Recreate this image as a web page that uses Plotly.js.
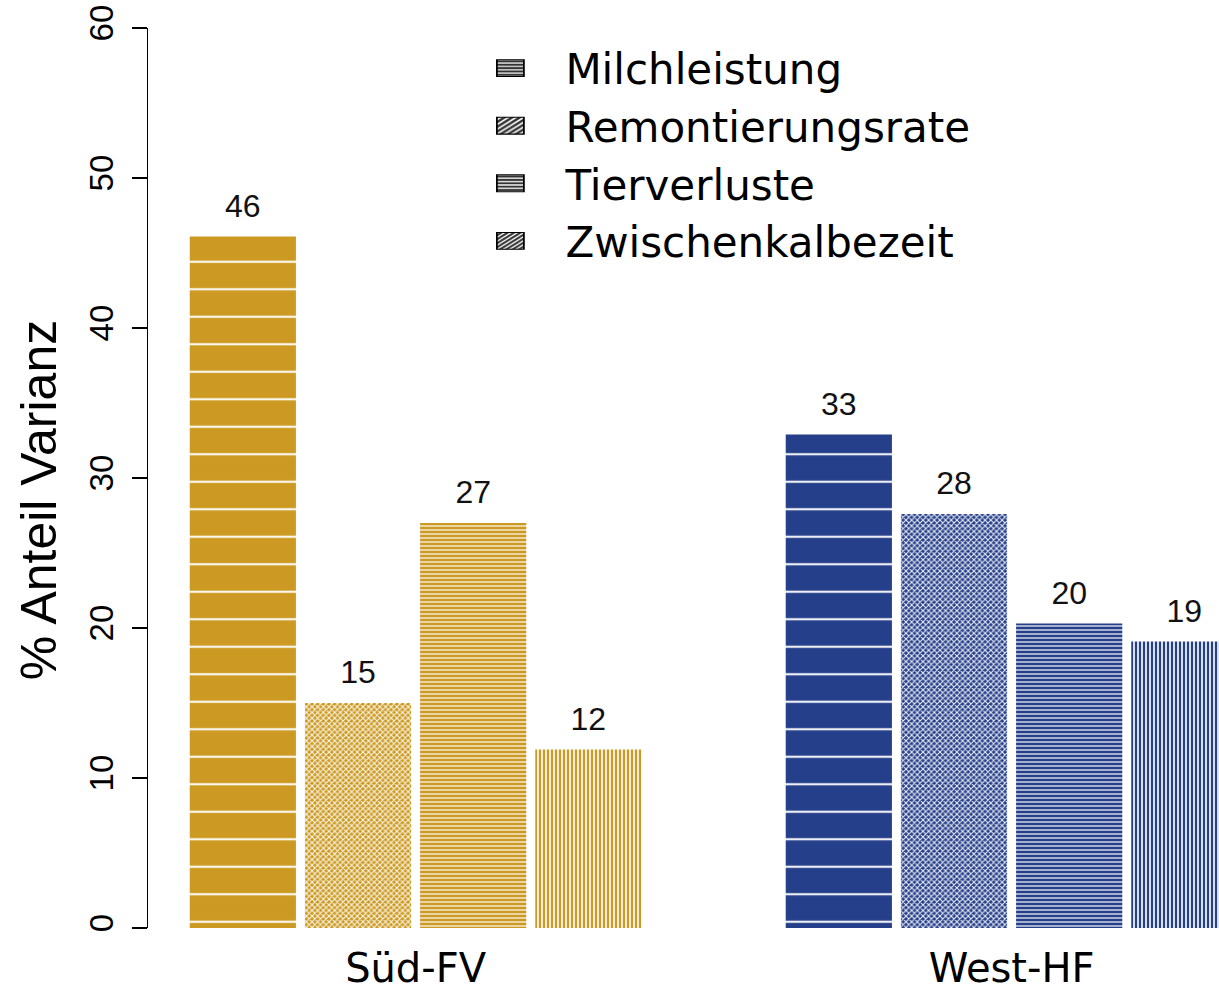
<!DOCTYPE html>
<html>
<head>
<meta charset="utf-8">
<script src="https://cdn.plot.ly/plotly-3.0.1.min.js"></script>
<style>html,body{margin:0;padding:0;background:#fff;}#chart{width:1219px;height:993px;}</style>
</head>
<body>
<div id="chart"></div>
<script>
// ---- data ----
const groups = ["Süd-FV", "West-HF"];
const seriesNames = ["Milchleistung", "Remontierungsrate", "Tierverluste", "Zwischenkalbezeit"];
const milchleistung = [46.1, 32.9];
const remontierungsrate = [15.0, 27.6];
const tierverluste = [27.0, 20.3];
const zwischenkalbezeit = [11.9, 19.1];
const yTicks = [0, 10, 20, 30, 40, 50, 60];

// ---- styles ----
const groupColors = ["#CC9A22", "#253F8A"];
const patterns = [
  {shape: "-", size: 27.5, solidity: 0.08},
  {shape: "x", size: 4, solidity: 0.45},
  {shape: "-", size: 4, solidity: 0.32},
  {shape: "|", size: 4, solidity: 0.45}
];
const legendPatterns = [
  {shape: "-", size: 3, solidity: 0.35},
  {shape: "/", size: 3, solidity: 0.4},
  {shape: "-", size: 3, solidity: 0.4},
  {shape: "/", size: 2.5, solidity: 0.4}
];
const values = [milchleistung, remontierungsrate, tierverluste, zwischenkalbezeit];

const traces = [];
values.forEach((vals, i) => {
  traces.push({
    type: "bar",
    name: seriesNames[i],
    x: groups,
    y: vals,
    showlegend: false,
    marker: {
      color: groupColors[0],
      line: {width: 0},
      pattern: Object.assign({
        fillmode: "replace",
        fgcolor: groups.map(() => "#ffffff"),
        bgcolor: groupColors,
        fgopacity: 0.92
      }, patterns[i])
    },
    texttemplate: "%{y:.0f}",
    textposition: "outside",
    cliponaxis: false,
    textfont: {family: "Liberation Sans, Arial, sans-serif", size: 32, color: "#111"},
    hoverinfo: "skip"
  });
});
// legend-only swatches (drawn off-screen on hidden axes)
seriesNames.forEach((n, i) => {
  traces.push({
    type: "bar",
    name: n,
    x: [0],
    y: [1],
    xaxis: "x2",
    yaxis: "y2",
    legendgroup: "g" + i,
    showlegend: true,
    marker: {
      color: "#333333",
      line: {width: 1, color: "#000"},
      pattern: Object.assign({fillmode: "overlay", fgcolor: "#ffffff", fgopacity: 1}, legendPatterns[i])
    },
    hoverinfo: "skip"
  });
});

const layout = {
  width: 1219,
  height: 993,
  margin: {l: 148, r: 0, t: 28, b: 65},
  paper_bgcolor: "#ffffff",
  plot_bgcolor: "#ffffff",
  barmode: "group",
  bargap: 0.227,
  bargroupgap: 0.078,
  showlegend: true,
  legend: {
    x: 0.287, y: 0.993, xanchor: "left", yanchor: "top",
    font: {family: "DejaVu Sans, Verdana, sans-serif", size: 42, color: "#000"},
    bgcolor: "rgba(0,0,0,0)",
    itemwidth: 100,
    tracegroupgap: 0,
    itemclick: false, itemdoubleclick: false
  },
  xaxis: {
    type: "category",
    range: [-0.449, 1.348],
    showline: false, showgrid: false, zeroline: false,
    ticks: "",
    ticklabelstandoff: 13,
    tickfont: {family: "DejaVu Sans, Verdana, sans-serif", size: 40, color: "#000"},
    fixedrange: true
  },
  yaxis: {
    range: [0, 60],
    tickvals: yTicks,
    ticktext: yTicks.map(String),
    tickangle: -90,
    ticks: "outside",
    ticklen: 15,
    tickwidth: 1.5,
    tickcolor: "#000",
    showline: true,
    linecolor: "#000",
    linewidth: 1.5,
    showgrid: false,
    zeroline: false,
    ticklabelstandoff: 5,
    tickfont: {family: "Liberation Sans, Arial, sans-serif", size: 33, color: "#000"},
    title: {text: "% Anteil Varianz", font: {family: "Liberation Sans, Arial, sans-serif", size: 50, color: "#000"}, standoff: 11},
    fixedrange: true
  },
  xaxis2: {overlaying: "x", visible: false, range: [10, 11], fixedrange: true},
  yaxis2: {overlaying: "y", visible: false, range: [0, 1], fixedrange: true}
};

Plotly.newPlot("chart", traces, layout, {displayModeBar: false, staticPlot: true}).then(gd => {
  // lift value labels a little further above the bars
  gd.querySelectorAll("text.bartext").forEach(t => {
    const tr = t.getAttribute("transform") || "";
    t.setAttribute("transform", "translate(0,-10) " + tr);
  });
  // the original's axis title sits slightly below the middle of the axis
  gd.querySelectorAll("g.g-ytitle").forEach(g => g.setAttribute("transform", "translate(0,22)"));
  // enlarge legend swatches to the wider, flatter boxes of the original
  gd.querySelectorAll(".legend .legendpoints path").forEach(p => {
    const t = p.getAttribute("transform") || "";
    p.setAttribute("transform", t + " scale(2.25,1.4)");
    p.style.strokeWidth = "0.8px";
  });
});
</script>
</body>
</html>
